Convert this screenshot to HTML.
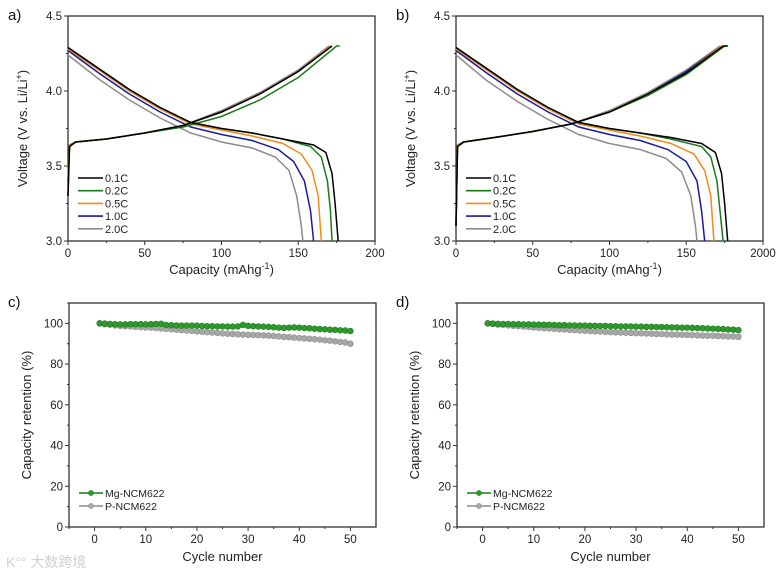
<!DOCTYPE html>
<html><head><meta charset="utf-8"><style>
html,body{margin:0;padding:0;background:#fff;}
svg{display:block;font-family:"Liberation Sans",Arial,sans-serif;}
</style></head><body>
<svg id="fig" width="782" height="578" viewBox="0 0 782 578"></svg>
<script>
// ---------- data ----------
const rateLabels = ["0.1C","0.2C","0.5C","1.0C","2.0C"];
const rateColors = ["#000000","#1a7a1a","#f08a1c","#1a1aa0","#8c8c8c"];
const dischargeA = [
 [[0,4.29],[20,4.15],[40,4.01],[60,3.89],[80,3.79],[100,3.75],[120,3.72],[140,3.68],[160,3.64],[168,3.59],[172,3.45],[174,3.25],[176,3.0]],
 [[0,4.29],[20,4.15],[40,4.01],[60,3.89],[80,3.79],[100,3.75],[120,3.72],[140,3.68],[158,3.63],[165,3.56],[169,3.4],[171,3.2],[172,3.0]],
 [[0,4.28],[20,4.14],[40,4.0],[60,3.88],[80,3.78],[100,3.74],[120,3.7],[140,3.65],[152,3.58],[159,3.47],[163,3.3],[165,3.0]],
 [[0,4.27],[20,4.12],[40,3.98],[60,3.86],[80,3.76],[100,3.71],[120,3.67],[137,3.61],[147,3.53],[154,3.4],[158,3.2],[160,3.0]],
 [[0,4.24],[20,4.08],[40,3.94],[60,3.82],[80,3.72],[100,3.66],[120,3.62],[135,3.56],[144,3.47],[149,3.3],[152,3.1],[153,3.0]]
];
const chargeA = [
 [[0,3.3],[1,3.63],[5,3.66],[25,3.68],[50,3.72],[75,3.77],[100,3.86],[125,3.98],[150,4.13],[172,4.3]],
 [[0,3.3],[1,3.63],[5,3.66],[25,3.68],[50,3.72],[75,3.76],[100,3.83],[125,3.94],[150,4.09],[175,4.3],[177,4.3]],
 [[0,3.4],[1,3.64],[5,3.66],[25,3.68],[50,3.72],[75,3.77],[100,3.86],[125,3.98],[150,4.13],[171,4.3]],
 [[0,3.4],[1,3.64],[5,3.66],[25,3.68],[50,3.72],[75,3.77],[100,3.86],[125,3.98],[150,4.13],[171,4.3]],
 [[0,3.4],[1,3.64],[5,3.66],[25,3.68],[50,3.72],[75,3.77],[100,3.87],[125,3.99],[150,4.14],[170,4.3]]
];
const dischargeB = [
 [[0,4.29],[20,4.15],[40,4.01],[60,3.89],[80,3.79],[100,3.75],[120,3.72],[140,3.69],[160,3.65],[169,3.59],[173,3.45],[175,3.25],[177,3.0]],
 [[0,4.29],[20,4.15],[40,4.01],[60,3.89],[80,3.79],[100,3.75],[120,3.72],[140,3.68],[160,3.63],[166,3.56],[170,3.4],[172,3.2],[174,3.0]],
 [[0,4.28],[20,4.14],[40,4.0],[60,3.88],[80,3.78],[100,3.74],[120,3.7],[140,3.65],[155,3.58],[162,3.47],[166,3.3],[168,3.0]],
 [[0,4.27],[20,4.12],[40,3.98],[60,3.86],[80,3.76],[100,3.71],[120,3.67],[138,3.61],[150,3.53],[157,3.4],[160,3.2],[162,3.0]],
 [[0,4.24],[20,4.07],[40,3.93],[60,3.81],[80,3.71],[100,3.65],[120,3.61],[137,3.55],[147,3.46],[153,3.3],[156,3.1],[157,3.0]]
];
const chargeB = [
 [[0,3.1],[1,3.63],[5,3.66],[25,3.69],[50,3.73],[75,3.78],[100,3.86],[125,3.98],[150,4.12],[174,4.3],[177,4.3]],
 [[0,3.1],[1,3.63],[5,3.66],[25,3.69],[50,3.73],[75,3.78],[100,3.86],[125,3.97],[150,4.11],[175,4.3],[177,4.3]],
 [[0,3.1],[1,3.64],[5,3.66],[25,3.69],[50,3.73],[75,3.78],[100,3.86],[125,3.98],[150,4.12],[173,4.3]],
 [[0,3.1],[1,3.64],[5,3.66],[25,3.69],[50,3.73],[75,3.78],[100,3.86],[125,3.98],[150,4.13],[173,4.3]],
 [[0,3.1],[1,3.64],[5,3.66],[25,3.69],[50,3.73],[75,3.78],[100,3.87],[125,3.99],[150,4.14],[172,4.3]]
];
const cycles = [1,2,3,4,5,6,7,8,9,10,11,12,13,14,15,16,17,18,19,20,21,22,23,24,25,26,27,28,29,30,31,32,33,34,35,36,37,38,39,40,41,42,43,44,45,46,47,48,49,50];
const mgC = [100,99.9,99.7,99.6,99.5,99.5,99.6,99.6,99.6,99.5,99.6,99.7,99.8,99.2,99.1,99,98.9,98.9,98.9,98.9,98.7,98.6,98.6,98.5,98.5,98.4,98.4,98.5,99.2,98.8,98.6,98.5,98.4,98.3,98.1,97.9,97.8,97.9,98,97.9,97.7,97.6,97.4,97.2,97.1,96.9,96.8,96.6,96.5,96.2];
const pC = [100,99.6,99.3,99.0,98.8,98.6,98.5,98.3,98.1,98.0,97.9,97.7,97.5,97.3,97.1,96.9,96.7,96.5,96.3,96.1,95.9,95.7,95.5,95.3,95.1,94.9,94.8,94.6,94.5,94.4,94.3,94.2,94.1,94.0,93.8,93.6,93.4,93.2,93.0,92.8,92.6,92.4,92.2,92.0,91.7,91.5,91.2,90.9,90.6,90.0];
const mgD = [100,99.9,99.8,99.7,99.7,99.6,99.6,99.5,99.5,99.4,99.4,99.3,99.3,99.2,99.1,99.1,99.0,99.0,98.9,98.9,98.8,98.8,98.7,98.7,98.6,98.6,98.5,98.5,98.5,98.4,98.4,98.3,98.3,98.2,98.2,98.1,98.0,98.0,97.9,97.9,97.8,97.7,97.6,97.5,97.4,97.3,97.2,97.0,96.9,96.7];
const pD = [100,99.7,99.4,99.2,99.0,98.8,98.6,98.4,98.2,98.0,97.8,97.6,97.5,97.3,97.1,97.0,96.8,96.7,96.5,96.4,96.2,96.1,96.0,95.8,95.7,95.6,95.5,95.4,95.3,95.2,95.1,95.0,94.9,94.8,94.7,94.6,94.5,94.5,94.4,94.3,94.2,94.1,94.0,93.9,93.9,93.8,93.7,93.6,93.5,93.4];
const capTicks = [0,50,100,150,200];
const voltTicks = [3.0,3.5,4.0,4.5];
const cycTicks = [0,10,20,30,40,50];
const retTicks = [0,20,40,60,80,100];

// ---------- helpers ----------
const NS="http://www.w3.org/2000/svg";
const svg=document.getElementById('fig');
function el(tag,attrs,parent,text){const e=document.createElementNS(NS,tag);for(const k in attrs)e.setAttribute(k,attrs[k]);if(text!==undefined)e.textContent=text;(parent||svg).appendChild(e);return e;}

function frame(g,L,T,R,B){
  const r=el('rect',{x:L,y:T,width:R-L,height:B-T,fill:'none',stroke:'#333','stroke-width':1.3},g);
  
  
}

function voltagePanel(ox,letter,dis,chg,lastLabel){
  const L=68+ox,R=375+ox,T=16,B=241;
  const g=el('g',{},svg);
  
  
  const xs=v=>L+(v/200)*(R-L), ys=v=>B-(v-3)/1.5*(B-T);
  frame(g,L,T,R,B);
  capTicks.forEach((t,i)=>{const x=xs(t);el('line',{x1:x,x2:x,y1:B,y2:B+4,stroke:'#333'},g);
    if(i<capTicks.length-1) el('line',{x1:xs(t+25),x2:xs(t+25),y1:B,y2:B+2,stroke:'#333'},g);
    const lab=el('text',{x:x,y:B+16,'font-size':11.5,'text-anchor':'middle',fill:'#222'},g,(i==capTicks.length-1&&lastLabel)?lastLabel:String(t));
    });
  voltTicks.forEach((t,i)=>{const y=ys(t);el('line',{x1:L-4,x2:L,y1:y,y2:y,stroke:'#333'},g);
    if(i<voltTicks.length-1) el('line',{x1:L-2,x2:L,y1:ys(t+0.25),y2:ys(t+0.25),stroke:'#333'},g);
    const lab=el('text',{x:L-6,y:y+4,'font-size':11.5,'text-anchor':'end',fill:'#222'},g,t.toFixed(1));
    });
  const xt=el('text',{x:(L+R)/2,y:B+33,'font-size':13,'text-anchor':'middle',fill:'#222'},g);
  xt.innerHTML='Capacity (mAhg<tspan dy="-5" font-size="9">-1</tspan><tspan dy="5">)</tspan>';
  
  const yt=el('text',{transform:`translate(${L-41},${(T+B)/2}) rotate(-90)`,'font-size':13,'text-anchor':'middle',fill:'#222'},g);
  yt.innerHTML='Voltage (V vs. Li/Li<tspan dy="-5" font-size="9">+</tspan><tspan dy="5">)</tspan>';
  
  const pl=el('text',{x:ox+8,y:20,'font-size':15,fill:'#111'},g,letter+')');
  
  for(let s=4;s>=0;s--){
    [chg[s],dis[s]].forEach((pts,k)=>{
      const p=el('polyline',{points:pts.map(p=>xs(p[0])+','+ys(p[1])).join(' '),fill:'none',stroke:rateColors[s],'stroke-width':1.5},g);
      
      
    });
  }
  rateLabels.forEach((lab,i)=>{const y=178+i*12.7;
    const ln=el('line',{x1:L+10,x2:L+35,y1:y,y2:y,stroke:rateColors[i],'stroke-width':1.6},g);
    
    const t=el('text',{x:L+37,y:y+4,'font-size':11,fill:'#222'},g,lab);
    });
}

function cyclePanel(ox,letter,mg,p){
  const L=69+ox,R=376+ox,T=303,B=527;
  const g=el('g',{},svg);
  
  
  const xs=v=>L+(v+5)/60*(R-L), ys=v=>B-v/110*(B-T);
  frame(g,L,T,R,B);
  cycTicks.forEach((t,i)=>{const x=xs(t);el('line',{x1:x,x2:x,y1:B,y2:B+4,stroke:'#333'},g);
    el('line',{x1:xs(t-5),x2:xs(t-5),y1:B,y2:B+2,stroke:'#333'},g);
    const lab=el('text',{x:x,y:B+16,'font-size':11.5,'text-anchor':'middle',fill:'#222'},g,String(t));
    });
  retTicks.forEach((t,i)=>{const y=ys(t);el('line',{x1:L-4,x2:L,y1:y,y2:y,stroke:'#333'},g);
    el('line',{x1:L-2,x2:L,y1:ys(t+10),y2:ys(t+10),stroke:'#333'},g);
    const lab=el('text',{x:L-6,y:y+4,'font-size':11.5,'text-anchor':'end',fill:'#222'},g,String(t));
    });
  const xt=el('text',{x:(L+R)/2,y:B+34,'font-size':13,'text-anchor':'middle',fill:'#222'},g,'Cycle number');
  
  const yt=el('text',{transform:`translate(${L-38},${(T+B)/2}) rotate(-90)`,'font-size':13,'text-anchor':'middle',fill:'#222'},g,'Capacity retention (%)');
  
  const pl=el('text',{x:ox+8,y:307,'font-size':15,fill:'#111'},g,letter+')');
  
  [[p,'#8c8c8c','#a8a8a8','p-ncm622'],[mg,'#1a7a1a','#2e9a2e','mg-ncm622']].forEach(([arr,lc,fc,nm])=>{
    const pl2=el('polyline',{points:arr.map((v,i)=>xs(cycles[i])+','+ys(v)).join(' '),fill:'none',stroke:lc,'stroke-width':1},g);
    
    arr.forEach((v,i)=>{const c=el('circle',{cx:xs(cycles[i]),cy:ys(v),r:2.9,fill:fc,stroke:lc,'stroke-width':0.6},g);
      });
  });
  [['Mg-NCM622','#1a7a1a','#2e9a2e',493],['P-NCM622','#8c8c8c','#a8a8a8',506]].forEach(([lab,lc,fc,y])=>{
    const ln=el('line',{x1:L+10,x2:L+34,y1:y,y2:y,stroke:lc,'stroke-width':1.6},g);
    
    el('circle',{cx:L+22,cy:y,r:2.6,fill:fc,stroke:lc,'stroke-width':0.5},g);
    const t=el('text',{x:L+36,y:y+4,'font-size':10.5,fill:'#222'},g,lab);
    });
}

voltagePanel(0,'a',dischargeA,chargeA,null);
voltagePanel(388,'b',dischargeB,chargeB,'2000');
cyclePanel(0,'c',mgC,pC);
cyclePanel(388,'d',mgD,pD);
const wm=el('text',{x:6,y:567,'font-size':14,fill:'#d0d0d0','font-family':'"Liberation Sans","Noto Sans CJK SC",sans-serif'},svg,'K°° 大数跨境');


</script>
</body></html>
